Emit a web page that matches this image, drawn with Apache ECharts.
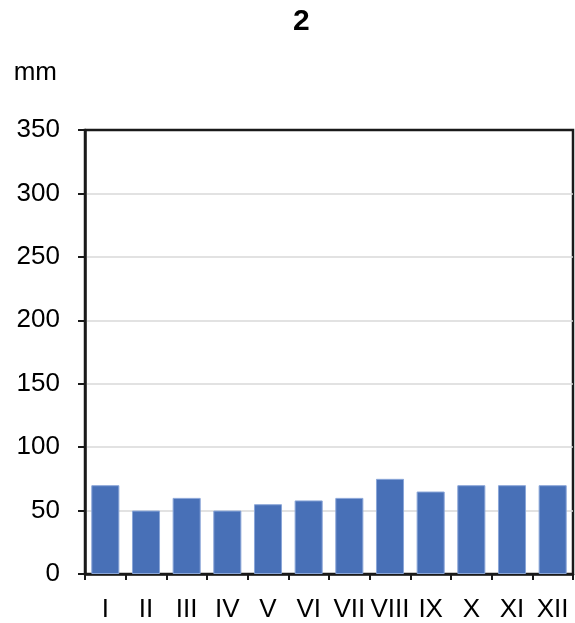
<!DOCTYPE html>
<html>
<head>
<meta charset="utf-8">
<script src="https://cdn.jsdelivr.net/npm/echarts@6/dist/echarts.min.js"></script>
<style>
html,body{margin:0;padding:0;background:#fff;}
#c{width:575px;height:623px;}
</style>
</head>
<body>
<div id="c"></div>
<script>
const titleText = '2';
const unitLabel = 'mm';
const months = ['I','II','III','IV','V','VI','VII','VIII','IX','X','XI','XII'];
const precipitation = [70, 50, 60, 50, 55, 58, 60, 75, 65, 70, 70, 70];
const yMin = 0, yMax = 350, yStep = 50;

const chart = echarts.init(document.getElementById('c'), null, {renderer: 'canvas'});
const font = '"Liberation Sans", Arial, sans-serif';
const gridColors = [];
for (let v = yMin; v <= yMax; v += yStep) {
  gridColors.push(v === yMin || v === yMax ? 'rgba(0,0,0,0)' : '#d9d9d9');
}
chart.setOption({
  animation: false,
  backgroundColor: '#ffffff',
  title: {
    text: titleText,
    left: 288,
    top: 2,
    textStyle: {fontFamily: font, fontSize: 30, fontWeight: 'bold', color: '#000'}
  },
  grid: {
    left: 85, right: 2, top: 130, bottom: 48,
    show: true, borderColor: '#1a1a1a', borderWidth: 2.5, backgroundColor: 'transparent'
  },
  xAxis: {
    type: 'category',
    data: months,
    boundaryGap: true,
    axisLine: {show: true, lineStyle: {color: '#1a1a1a', width: 2.5}},
    axisTick: {show: true, length: 6, lineStyle: {color: '#1a1a1a', width: 2}},
    axisLabel: {margin: 23, fontFamily: font, fontSize: 26, color: '#000', interval: 0},
    splitLine: {show: false}
  },
  yAxis: {
    type: 'value',
    min: yMin, max: yMax, interval: yStep,
    name: unitLabel,
    nameLocation: 'end',
    nameGap: 57,
    nameTextStyle: {fontFamily: font, fontSize: 26, color: '#000', align: 'right', verticalAlign: 'middle', padding: [0, 28, 0, 0]},
    axisLine: {show: true, lineStyle: {color: '#1a1a1a', width: 2.5}},
    axisTick: {show: true, length: 7, lineStyle: {color: '#1a1a1a', width: 2}},
    axisLabel: {margin: 25, fontFamily: font, fontSize: 26, color: '#000'},
    splitLine: {show: true, lineStyle: {color: gridColors, width: 1.5}}
  },
  series: [{
    type: 'bar',
    data: precipitation,
    barCategoryGap: '31%',
    itemStyle: {color: '#4870b7', borderColor: '#8aa6d8', borderWidth: 1}
  }]
});
</script>
</body>
</html>
